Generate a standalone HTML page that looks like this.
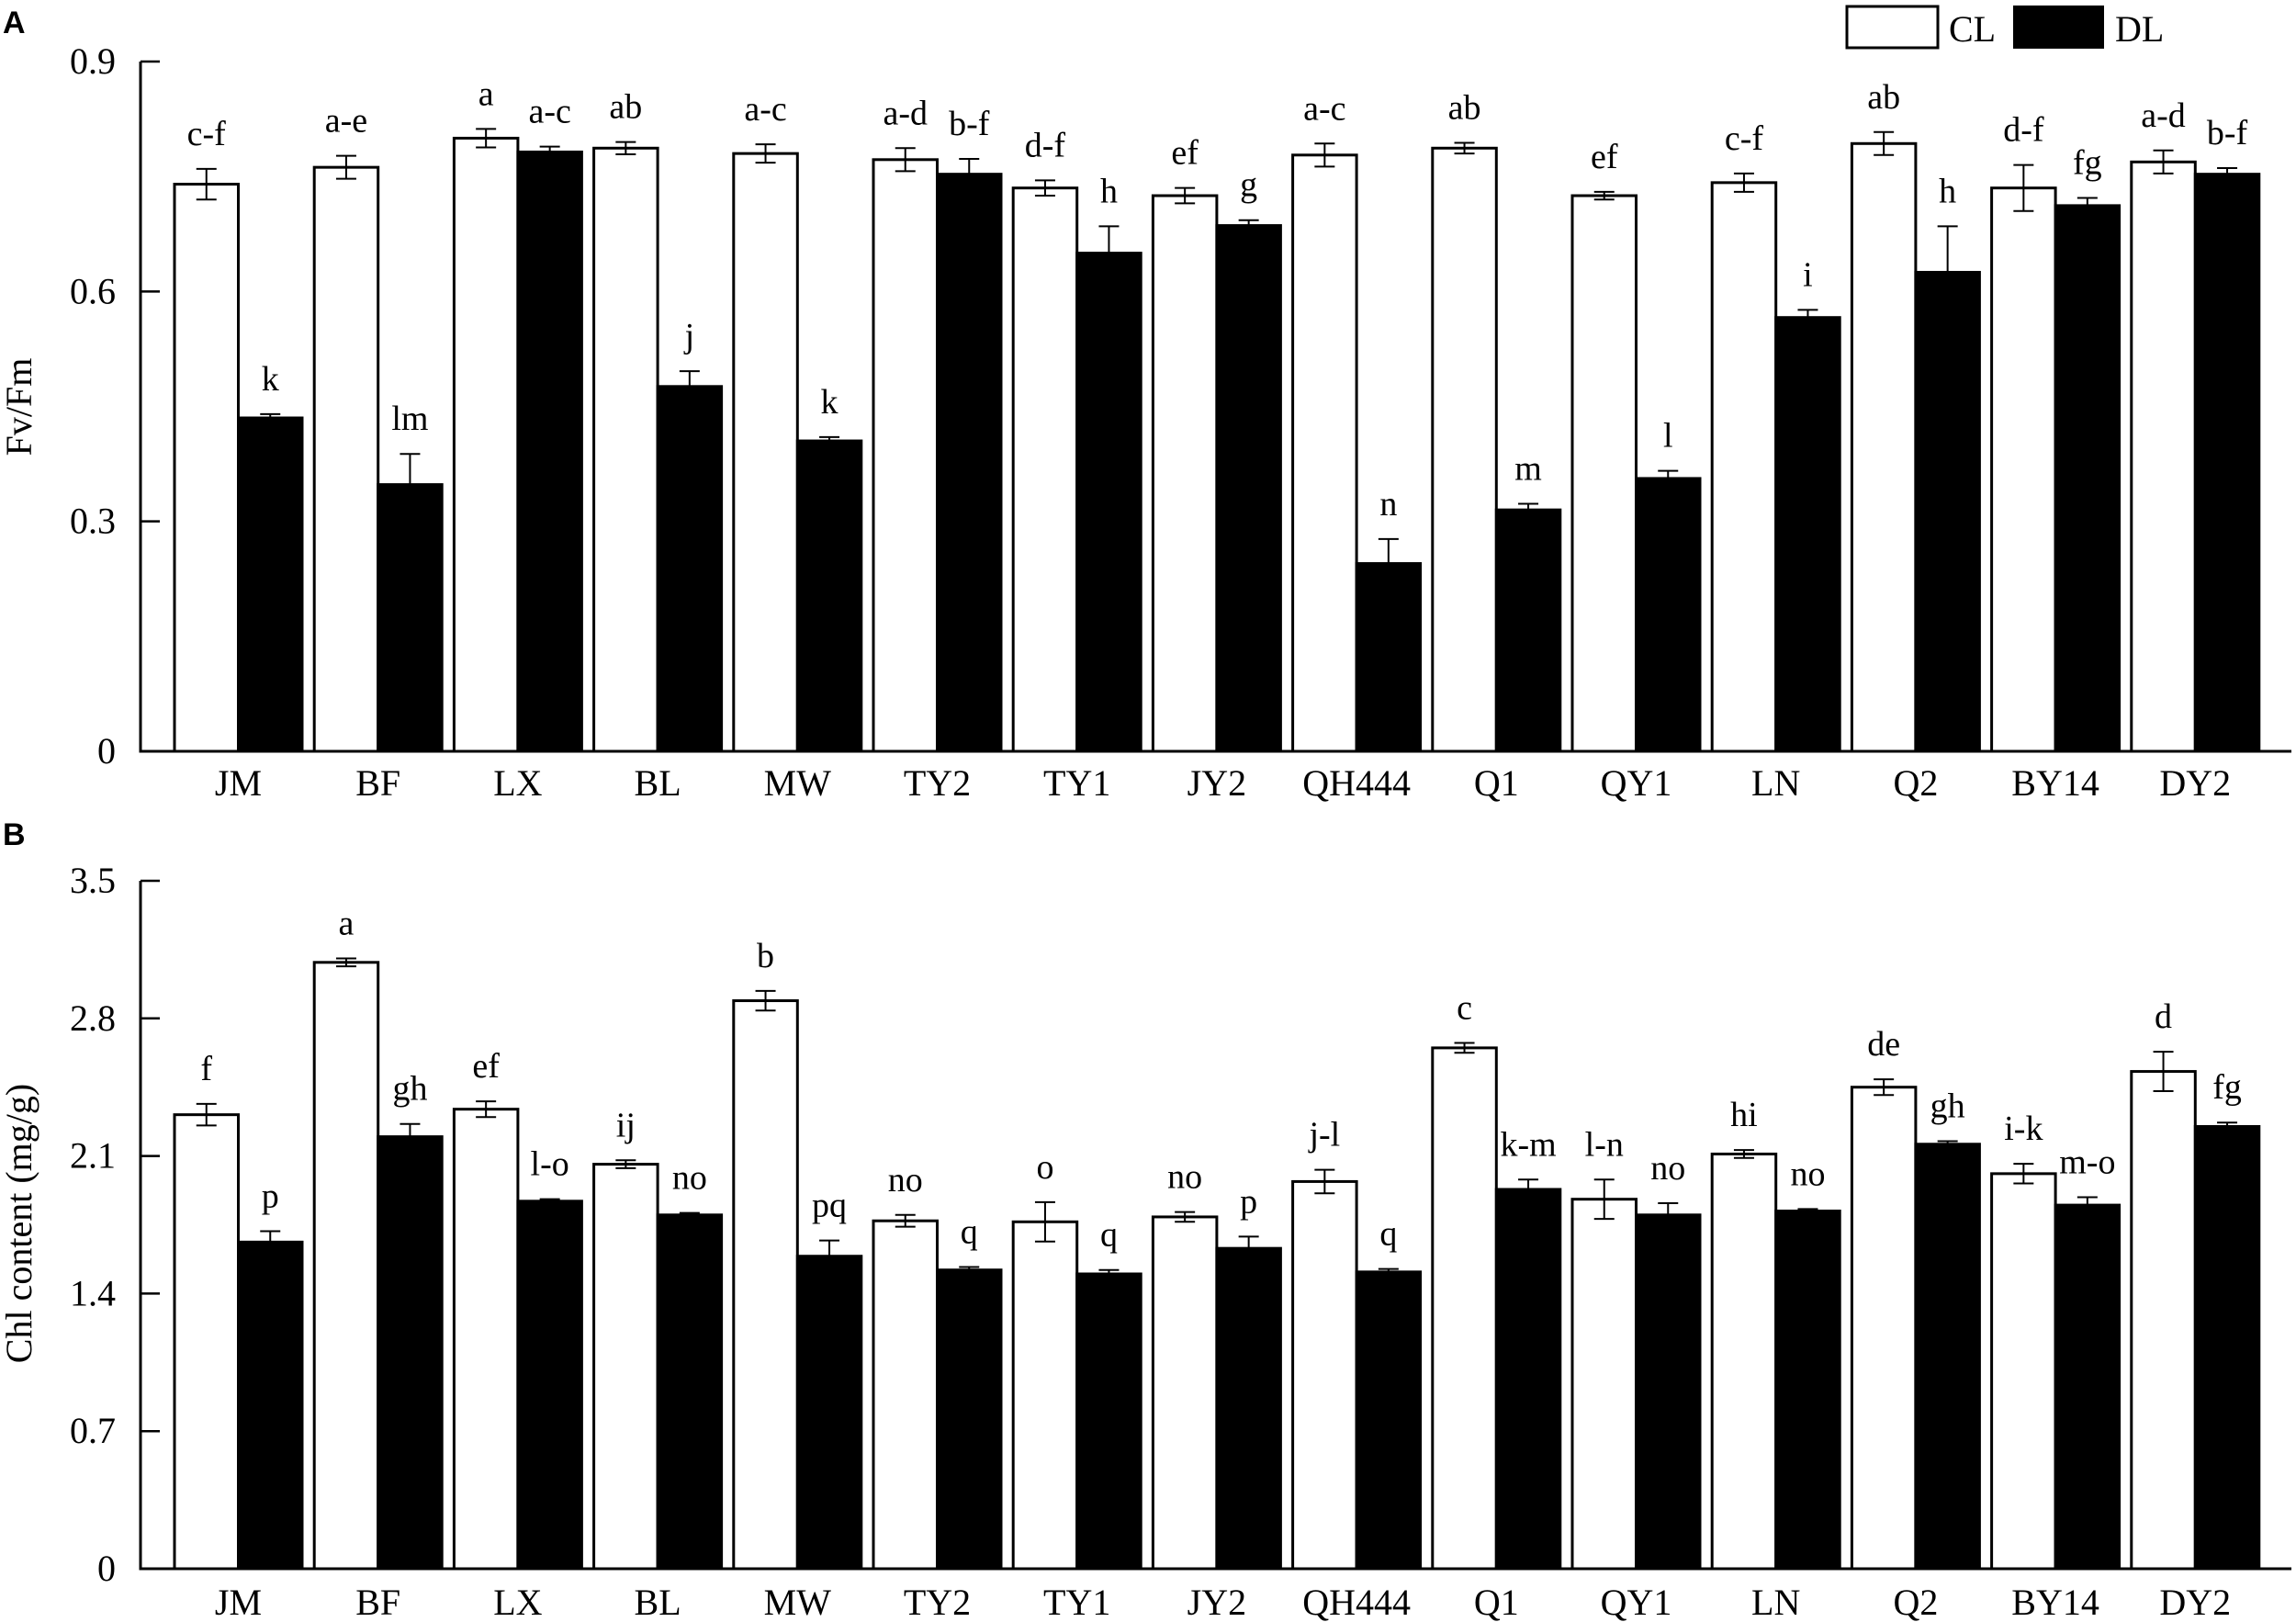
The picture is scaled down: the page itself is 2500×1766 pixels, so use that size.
<!DOCTYPE html>
<html><head><meta charset="utf-8">
<style>
html,body{margin:0;padding:0;background:#fff;}
svg{display:block;font-family:"Liberation Serif",serif;}
</style></head>
<body>
<svg id="s" width="2500" height="1766" viewBox="0 0 2500 1766" xmlns="http://www.w3.org/2000/svg">
<rect width="2500" height="1766" fill="#fff"/>
<text x="3" y="36" font-family="Liberation Sans,sans-serif" font-weight="bold" font-size="34">A</text>
<text x="3" y="920" font-family="Liberation Sans,sans-serif" font-weight="bold" font-size="34">B</text>
<rect x="2011" y="7" width="99" height="45" fill="#fff" stroke="#000" stroke-width="3"/>
<text x="2122" y="45" font-size="40">CL</text>
<rect x="2192" y="6" width="99" height="47" fill="#000"/>
<text x="2303" y="45" font-size="40">DL</text>
<text transform="translate(34,443) rotate(-90)" text-anchor="middle" font-size="40">Fv/Fm</text>
<text transform="translate(34,1332) rotate(-90)" text-anchor="middle" font-size="40">Chl content (mg/g)</text>
</svg>
<script>
var s=document.getElementById('s'),NS='http://www.w3.org/2000/svg';
function el(t,a,txt){var e=document.createElementNS(NS,t);for(var k in a)e.setAttribute(k,a[k]);if(txt!==undefined)e.textContent=txt;s.appendChild(e);return e;}
var names=["JM","BF","LX","BL","MW","TY2","TY1","JY2","QH444","Q1","QY1","LN","Q2","BY14","DY2"];
var A={y0:818,ytop:67,max:0.9,ticks:[0,0.3,0.6,0.9],tl:["0","0.3","0.6","0.9"],lab:866,
cl:[[0.74,0.02],[0.762,0.015],[0.80,0.012],[0.787,0.008],[0.78,0.012],[0.772,0.015],[0.735,0.01],[0.725,0.01],[0.778,0.015],[0.787,0.007],[0.725,0.005],[0.742,0.012],[0.793,0.015],[0.735,0.03],[0.769,0.015]],
dl:[[0.435,0.005],[0.348,0.04],[0.782,0.007],[0.476,0.02],[0.405,0.005],[0.753,0.02],[0.65,0.035],[0.686,0.007],[0.245,0.032],[0.315,0.008],[0.356,0.01],[0.566,0.01],[0.625,0.06],[0.712,0.01],[0.753,0.008]],
lc:["c-f","a-e","a","ab","a-c","a-d","d-f","ef","a-c","ab","ef","c-f","ab","d-f","a-d"],
ld:["k","lm","a-c","j","k","b-f","h","g","n","m","l","i","h","fg","b-f"]};
var B={y0:1708,ytop:959,max:3.5,ticks:[0,0.7,1.4,2.1,2.8,3.5],tl:["0","0.7","1.4","2.1","2.8","3.5"],lab:1758,
cl:[[2.31,0.055],[3.085,0.02],[2.338,0.04],[2.058,0.02],[2.89,0.05],[1.77,0.03],[1.765,0.1],[1.79,0.025],[1.97,0.06],[2.65,0.025],[1.88,0.1],[2.11,0.02],[2.45,0.04],[2.01,0.05],[2.53,0.1]],
dl:[[1.662,0.055],[2.198,0.065],[1.87,0.01],[1.80,0.01],[1.59,0.08],[1.52,0.015],[1.50,0.02],[1.63,0.06],[1.51,0.015],[1.93,0.05],[1.80,0.06],[1.82,0.01],[2.16,0.015],[1.85,0.04],[2.25,0.02]],
lc:["f","a","ef","ij","b","no","o","no","j-l","c","l-n","hi","de","i-k","d"],
ld:["p","gh","l-o","no","pq","q","q","p","q","k-m","no","no","gh","m-o","fg"]};
function panel(P){
 var sc=(P.y0-P.ytop)/P.max;function Y(v){return P.y0-v*sc;}
 var ax=153;
 el('path',{d:'M'+ax+' '+P.ytop+'V'+P.y0+'H2495',fill:'none',stroke:'#000','stroke-width':3});
 P.ticks.forEach(function(t,i){var y=Y(t);el('line',{x1:ax,y1:y,x2:ax+21,y2:y,stroke:'#000','stroke-width':2.5});
  el('text',{x:126,y:y+13,'text-anchor':'end','font-size':40},P.tl[i]);});
 var bw=69.5;
 for(var i=0;i<15;i++){
  var x0=190+152.2*i;
  [[P.cl[i],x0,'#fff',P.lc[i]],[P.dl[i],x0+bw,'#000',P.ld[i]]].forEach(function(b){
   var v=b[0][0],e=b[0][1],x=b[1],y=Y(v);
   el('rect',{x:x,y:y,width:bw,height:P.y0-y,fill:b[2],stroke:'#000','stroke-width':3});
   var cx=x+bw/2,yt=Y(v+e),yb=Y(v-e);
   var lb=b[2]=='#000'?y:yb;
   el('path',{d:'M'+cx+' '+yt+'V'+lb+'M'+(cx-11)+' '+yt+'H'+(cx+11)+(b[2]=='#fff'?'M'+(cx-11)+' '+yb+'H'+(cx+11):''),stroke:'#000','stroke-width':2,fill:'none'});
   el('text',{x:cx,y:yt-26,'text-anchor':'middle','font-size':38},b[3]);
  });
  el('text',{x:x0+bw,y:P.lab,'text-anchor':'middle','font-size':40},names[i]);
 }
}
panel(A);panel(B);
</script>
</body></html>
